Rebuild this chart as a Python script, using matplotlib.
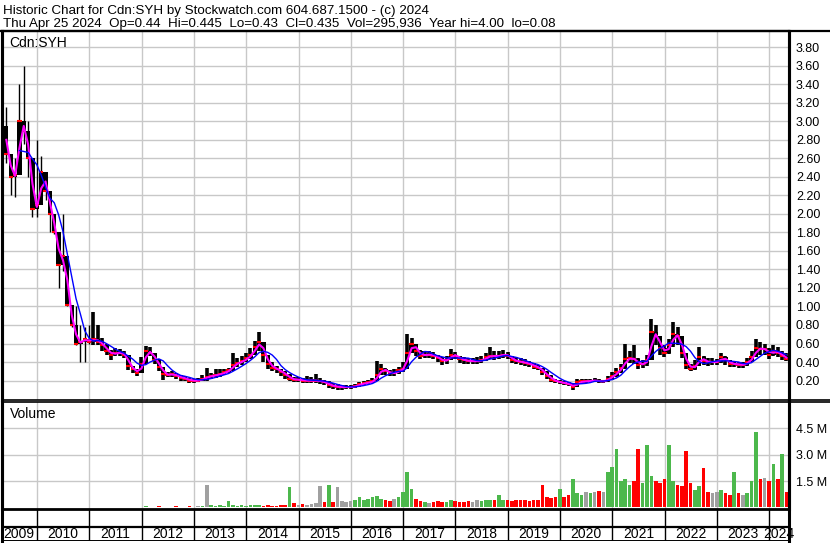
import matplotlib
matplotlib.use('Agg')
import matplotlib.pyplot as plt
import numpy as np
import pandas as pd
from matplotlib.lines import Line2D

plt.rcParams['font.family'] = ['Liberation Sans', 'DejaVu Sans']

# ---------------- data (monthly, Apr 2009 .. Apr 2024) ----------------
start_year = 2009.33
close = [2.95, 2.65, 2.40, 2.42, 3.00, 2.90, 2.60, 2.05, 2.10, 2.45,
         2.25, 2.00, 1.80, 1.45, 1.55, 1.02, 0.80, 0.60, 0.62, 0.65,
         0.62, 0.65, 0.62, 0.58, 0.52, 0.48, 0.50, 0.50, 0.48, 0.36,
         0.32, 0.28, 0.38, 0.52, 0.50, 0.42, 0.35, 0.27, 0.26, 0.27,
         0.25, 0.23, 0.22, 0.20, 0.20, 0.20, 0.22, 0.24, 0.25, 0.26,
         0.27, 0.29, 0.31, 0.37, 0.39, 0.41, 0.44, 0.48, 0.56, 0.62,
         0.48, 0.38, 0.34, 0.32, 0.29, 0.26, 0.22, 0.21, 0.21, 0.20,
         0.20, 0.20, 0.20, 0.19, 0.18, 0.15, 0.14, 0.13, 0.13, 0.13,
         0.13, 0.14, 0.16, 0.17, 0.18, 0.19, 0.26, 0.33, 0.30, 0.28,
         0.28, 0.31, 0.33, 0.50, 0.60, 0.52, 0.47, 0.48, 0.48, 0.47,
         0.44, 0.41, 0.42, 0.48, 0.47, 0.43, 0.42, 0.41, 0.41, 0.41,
         0.42, 0.45, 0.47, 0.46, 0.47, 0.48, 0.47, 0.42, 0.41, 0.40,
         0.39, 0.38, 0.35, 0.34, 0.29, 0.25, 0.21, 0.19, 0.18, 0.17,
         0.16, 0.13, 0.18, 0.19, 0.19, 0.20, 0.20, 0.19, 0.19, 0.22,
         0.25, 0.29, 0.34, 0.43, 0.44, 0.43, 0.37, 0.38, 0.42, 0.72,
         0.68, 0.55, 0.50, 0.58, 0.70, 0.68, 0.50, 0.37, 0.33, 0.36,
         0.45, 0.41, 0.40, 0.40, 0.40, 0.45, 0.42, 0.38, 0.38, 0.37,
         0.37, 0.40, 0.45, 0.55, 0.54, 0.54, 0.48, 0.52, 0.50, 0.46,
         0.435]
high = [3.80, 3.15, 2.65, 2.60, 3.40, 3.60, 3.00, 2.50, 2.80, 2.62,
        2.45, 2.20, 2.00, 1.80, 2.00, 1.38, 1.00, 1.00, 0.80, 0.78,
        0.80, 0.94, 0.80, 0.66, 0.60, 0.53, 0.55, 0.54, 0.52, 0.44,
        0.36, 0.32, 0.45, 0.57, 0.56, 0.49, 0.43, 0.32, 0.29, 0.30,
        0.28, 0.26, 0.25, 0.23, 0.22, 0.23, 0.26, 0.34, 0.28, 0.32,
        0.32, 0.32, 0.34, 0.50, 0.44, 0.46, 0.50, 0.55, 0.63, 0.72,
        0.62, 0.48, 0.40, 0.36, 0.33, 0.30, 0.27, 0.24, 0.24, 0.23,
        0.25, 0.24, 0.27, 0.23, 0.21, 0.19, 0.17, 0.16, 0.15, 0.15,
        0.15, 0.16, 0.18, 0.20, 0.21, 0.23, 0.41, 0.38, 0.34, 0.31,
        0.32, 0.35, 0.40, 0.70, 0.66, 0.58, 0.53, 0.52, 0.52, 0.51,
        0.48, 0.45, 0.46, 0.54, 0.51, 0.47, 0.45, 0.44, 0.44, 0.45,
        0.46, 0.50, 0.56, 0.52, 0.52, 0.53, 0.51, 0.47, 0.45, 0.44,
        0.43, 0.41, 0.39, 0.37, 0.34, 0.30, 0.26, 0.22, 0.21, 0.20,
        0.18, 0.17, 0.22, 0.22, 0.22, 0.22, 0.23, 0.22, 0.21, 0.25,
        0.29, 0.34, 0.38, 0.60, 0.52, 0.58, 0.44, 0.42, 0.48, 0.87,
        0.80, 0.68, 0.58, 0.65, 0.83, 0.78, 0.68, 0.50, 0.38, 0.42,
        0.56, 0.47, 0.44, 0.44, 0.43, 0.50, 0.46, 0.42, 0.41, 0.40,
        0.40, 0.44, 0.52, 0.65, 0.62, 0.60, 0.55, 0.58, 0.56, 0.52,
        0.50]
low = [2.75, 2.55, 2.20, 2.18, 2.50, 2.75, 2.40, 1.97, 1.97, 2.20,
       2.15, 1.80, 1.78, 1.20, 1.38, 1.00, 0.78, 0.58, 0.40, 0.40,
       0.60, 0.58, 0.58, 0.52, 0.48, 0.42, 0.46, 0.46, 0.44, 0.31,
       0.28, 0.25, 0.28, 0.40, 0.46, 0.38, 0.30, 0.21, 0.24, 0.24,
       0.22, 0.20, 0.19, 0.17, 0.17, 0.18, 0.19, 0.20, 0.22, 0.23,
       0.24, 0.26, 0.28, 0.30, 0.35, 0.37, 0.40, 0.43, 0.48, 0.52,
       0.40, 0.32, 0.30, 0.28, 0.25, 0.22, 0.19, 0.18, 0.18, 0.17,
       0.17, 0.17, 0.17, 0.16, 0.15, 0.12, 0.11, 0.10, 0.10, 0.11,
       0.11, 0.12, 0.13, 0.15, 0.16, 0.17, 0.22, 0.27, 0.26, 0.25,
       0.25, 0.27, 0.29, 0.40, 0.50, 0.46, 0.43, 0.44, 0.44, 0.43,
       0.40, 0.37, 0.38, 0.43, 0.43, 0.39, 0.38, 0.38, 0.38, 0.38,
       0.39, 0.41, 0.43, 0.42, 0.43, 0.44, 0.43, 0.39, 0.38, 0.37,
       0.36, 0.35, 0.32, 0.31, 0.26, 0.22, 0.18, 0.17, 0.16, 0.15,
       0.14, 0.10, 0.13, 0.17, 0.17, 0.18, 0.18, 0.17, 0.17, 0.18,
       0.21, 0.24, 0.28, 0.33, 0.39, 0.38, 0.33, 0.34, 0.36, 0.45,
       0.58, 0.48, 0.45, 0.49, 0.56, 0.58, 0.44, 0.32, 0.30, 0.31,
       0.36, 0.37, 0.36, 0.37, 0.37, 0.39, 0.37, 0.35, 0.35, 0.34,
       0.34, 0.36, 0.40, 0.46, 0.48, 0.48, 0.43, 0.46, 0.45, 0.42,
       0.41]
first_open = 3.20
volume_m = [0.03, 0.02, 0.04, 0.02, 0.03, 0.05, 0.02, 0.03, 0.04, 0.02,
            0.03, 0.02, 0.04, 0.03, 0.02, 0.05, 0.03, 0.02, 0.04, 0.03,
            0.02, 0.03, 0.04, 0.02, 0.03, 0.05, 0.02, 0.03, 0.02, 0.04,
            0.03, 0.02, 0.03, 0.06, 0.04, 0.03, 0.06, 0.05, 0.04, 0.05,
            0.07, 0.05, 0.04, 0.06, 0.05, 0.08, 0.10, 1.27, 0.15, 0.10,
            0.12, 0.10, 0.35, 0.12, 0.10, 0.12, 0.10, 0.14, 0.12, 0.15,
            0.10, 0.12, 0.10, 0.09, 0.12, 0.15, 1.17, 0.27, 0.15, 0.20,
            0.15, 0.20, 0.25, 1.23, 0.30, 1.30, 0.30, 1.17, 0.35, 0.30,
            0.35, 0.40, 0.60, 0.40, 0.50, 0.60, 0.65, 0.50, 0.40, 0.35,
            0.50, 0.60, 0.90, 2.00, 1.07, 0.50, 0.35, 0.30, 0.25, 0.30,
            0.35, 0.30, 0.30, 0.40, 0.35, 0.30, 0.30, 0.35, 0.30, 0.40,
            0.35, 0.40, 0.45, 0.40, 0.70, 0.45, 0.40, 0.35, 0.45, 0.40,
            0.40, 0.35, 0.45, 0.40, 1.27, 0.60, 0.55, 0.60, 1.07, 0.60,
            0.70, 1.60, 0.80, 0.70, 0.90, 0.80, 0.90, 0.94, 0.90, 2.04,
            2.29, 3.35, 1.50, 1.60, 1.30, 1.50, 3.35, 1.40, 3.58, 1.80,
            1.50, 1.40, 1.60, 3.58, 1.50, 1.30, 1.20, 3.23, 1.40, 1.00,
            1.20, 2.27, 0.90, 0.80, 0.90, 1.00, 0.80, 0.70, 2.00, 0.80,
            0.70, 0.80, 1.50, 4.29, 1.60, 1.70, 1.50, 2.50, 1.60, 3.04,
            0.90]
vol_color_override = {47: 'n', 73: 'n', 77: 'n', 66: 'g', 75: 'g', 93: 'g',
                      94: 'g', 124: 'r', 128: 'g', 131: 'g', 139: 'g',
                      140: 'g', 141: 'g', 146: 'r', 148: 'g', 153: 'g',
                      157: 'r', 161: 'r', 168: 'g', 173: 'g', 177: 'g',
                      179: 'g', 180: 'r'}
price_ticks = [0.20, 0.40, 0.60, 0.80, 1.00, 1.20, 1.40, 1.60, 1.80, 2.00,
               2.20, 2.40, 2.60, 2.80, 3.00, 3.20, 3.40, 3.60, 3.80]
vol_ticks = [1.5, 3.0, 4.5]
year_labels = [2009, 2010, 2011, 2012, 2013, 2014, 2015, 2016, 2017, 2018,
               2019, 2020, 2021, 2022, 2023, 2024]
header1 = "Historic Chart for Cdn:SYH by Stockwatch.com 604.687.1500 - (c) 2024"
header2 = ("Thu Apr 25 2024  Op=0.44  Hi=0.445  Lo=0.43  Cl=0.435  "
           "Vol=295,936  Year hi=4.00  lo=0.08")

# ---------------- layout helpers ----------------
W, H = 830, 543
fig = plt.figure(figsize=(W / 100, H / 100), dpi=100)
fig.patch.set_facecolor('white')

def fx(p):
    return p / W

def fy(p):
    return 1 - p / H

def px2year(p):
    return 2010 + (p - 37) / 52.3

XL, XR = 1.5, 789
xlim = (px2year(XL), px2year(XR))
GRID = '#c8c8c8'
GREEN = '#4cb84c'

t = start_year + np.arange(len(close)) / 12.0
close_a = np.array(close)
open_a = np.concatenate([[first_open], close_a[:-1]])
bw = 4.3 / 52.3

# ---------------- price panel ----------------
axp = fig.add_axes([fx(XL), fy(400), fx(XR) - fx(XL), fy(31) - fy(400)])
axp.set_xlim(*xlim)
axp.set_ylim(-0.01, 3.975)
axp.set_yticks(price_ticks)
axp.set_yticklabels([f"{v:.2f}" for v in price_ticks])
axp.set_xticks(year_labels[1:])
axp.tick_params(axis='x', length=0, labelbottom=False)
axp.yaxis.tick_right()
axp.tick_params(axis='y', length=0, pad=5, labelsize=9)
axp.grid(True, color=GRID, lw=1)
axp.set_axisbelow(True)

body_lo = np.minimum(open_a, close_a)
body_h = np.maximum(np.abs(close_a - open_a), 0.015)
wick_w = [1.0 if i < 21 else 2.6 for i in range(len(close))]
axp.vlines(t, low, high, color='black', linewidths=wick_w, zorder=2)
axp.bar(t, body_h, bottom=body_lo, width=bw, color='black', zorder=2)
axp.hlines(close_a, t - bw / 2, t + bw / 2, color='red', lw=1.5, zorder=3)

ma_short = pd.Series(close_a).rolling(2).mean()
ma_long = pd.Series(close_a).rolling(5).mean()
axp.plot(t, ma_short, color='#ff00ff', lw=1.5, zorder=4)
axp.plot(t, ma_long, color='#0000ff', lw=1.0, zorder=4)
axp.text(fx(8) / (fx(XR) - fx(XL)), 1 - (47 - 31) / 369, 'Cdn:SYH',
         transform=axp.transAxes, fontsize=10, va='baseline', ha='left')

for s in axp.spines.values():
    s.set_color('black')
axp.spines['left'].set_linewidth(2.2)
axp.spines['right'].set_linewidth(2.2)
axp.spines['top'].set_linewidth(1.6)
axp.spines['bottom'].set_linewidth(1.2)

# ---------------- volume panel ----------------
axv = fig.add_axes([fx(XL), fy(508.5), fx(XR) - fx(XL), fy(402) - fy(508.5)])
axv.set_xlim(*xlim)
axv.set_ylim(-0.06, 6.0)
axv.set_yticks(vol_ticks)
axv.set_yticklabels([f"{v:.1f} M" for v in vol_ticks])
axv.set_xticks(year_labels[1:])
axv.tick_params(axis='x', length=0, labelbottom=False)
axv.yaxis.tick_right()
axv.tick_params(axis='y', length=0, pad=5, labelsize=9)
axv.grid(True, color=GRID, lw=1)
axv.set_axisbelow(True)

cmap = {'g': GREEN, 'r': '#ff0000', 'n': '#a0a0a0'}
vcols = []
for i in range(len(close)):
    if i in vol_color_override:
        code = vol_color_override[i]
    elif close_a[i] > open_a[i]:
        code = 'g'
    elif close_a[i] < open_a[i]:
        code = 'r'
    else:
        code = 'n'
    vcols.append(cmap[code])
axv.bar(t, volume_m, width=3.6 / 52.3, color=vcols, zorder=2)
axv.text(fx(8) / (fx(XR) - fx(XL)), 1 - (418 - 402) / 106.5, 'Volume',
         transform=axv.transAxes, fontsize=10, va='baseline', ha='left')
for s in axv.spines.values():
    s.set_color('black')
axv.spines['left'].set_linewidth(2.2)
axv.spines['right'].set_linewidth(2.2)
axv.spines['top'].set_linewidth(1.2)
axv.spines['bottom'].set_linewidth(2.0)

# ---------------- year axis rows ----------------
axb = fig.add_axes([fx(XL), fy(541), fx(XR) - fx(XL), fy(508.5) - fy(541)])
axb.set_xlim(*xlim)
axb.set_ylim(0, 1)
axb.axis('off')
mid = (541 - 526.5) / (541 - 508.5)
axb.axhline(mid, color='black', lw=1.6)
axb.axhline(0, color='black', lw=1.4)
for y in year_labels[1:]:
    axb.axvline(y, color='black', lw=1.0)
for y in year_labels:
    a = max(y, xlim[0])
    b = min(y + 1, xlim[1])
    axb.text((a + b) / 2, mid / 2 - 0.02, str(y), ha='center', va='center',
             fontsize=10)

# ---------------- frame lines ----------------
fig.add_artist(Line2D([0, 1], [fy(31), fy(31)], transform=fig.transFigure,
                      color='black', lw=1.6))
fig.add_artist(Line2D([fx(XR), 1], [fy(400), fy(400)], transform=fig.transFigure,
                      color='black', lw=1.2))
fig.add_artist(Line2D([fx(XR), 1], [fy(402), fy(402)], transform=fig.transFigure,
                      color='black', lw=1.2))
fig.add_artist(Line2D([fx(XL), fx(XL)], [fy(541), fy(31)], transform=fig.transFigure,
                      color='black', lw=2.2))
fig.add_artist(Line2D([fx(XR), fx(XR)], [0, fy(31)], transform=fig.transFigure,
                      color='black', lw=2.2))

# ---------------- header ----------------
fig.text(fx(3), fy(14), header1, fontsize=9.6, va='baseline', ha='left')
fig.text(fx(3), fy(27), header2, fontsize=9.6, va='baseline', ha='left')

fig.savefig('out.png', dpi=100)
